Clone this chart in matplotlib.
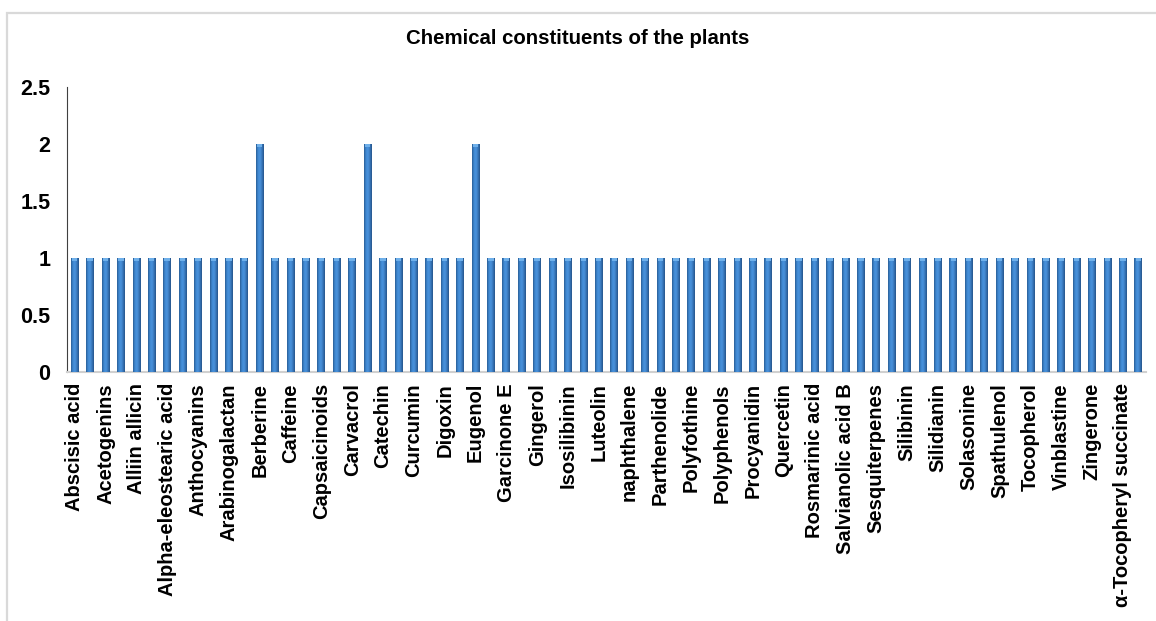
import numpy as np
import matplotlib.pyplot as plt
from matplotlib import rcParams
from matplotlib.colors import LinearSegmentedColormap
from matplotlib.patches import Rectangle

rcParams.update({'font.family': ['Liberation Sans', 'DejaVu Sans'], 'font.weight': 'bold'})

# every second compound carries a label on the category axis
labels = ['Abscisic acid', 'Acetogenins', 'Alliin allicin', 'Alpha-eleostearic acid',
          'Anthocyanins', 'Arabinogalactan', 'Berberine', 'Caffeine', 'Capsaicinoids',
          'Carvacrol', 'Catechin', 'Curcumin', 'Digoxin', 'Eugenol', 'Garcinone E',
          'Gingerol', 'Isosilibinin', 'Luteolin', 'naphthalene', 'Parthenolide',
          'Polyfothine', 'Polyphenols', 'Procyanidin', 'Quercetin', 'Rosmarinic acid',
          'Salvianolic acid B', 'Sesquiterpenes', 'Silibinin', 'Silidianin', 'Solasonine',
          'Spathulenol', 'Tocopherol', 'Vinblastine', 'Zingerone',
          '\u03b1-Tocopheryl succinate']

# counts per compound (70 bars)
counts = [1] * 70
counts[12] = 2
counts[19] = 2
counts[26] = 2

title = 'Chemical constituents of the plants'

fig = plt.figure(figsize=(11.56, 6.21), dpi=100)
# light grey chart frame
fig.add_artist(Rectangle((7 / 1156, -0.1), 1.2, 1 - 13 / 621 + 0.1, transform=fig.transFigure,
                         fill=False, edgecolor='#D9D9D9', linewidth=1.6))
ax = fig.add_axes([67 / 1156, 1 - 372 / 621, (1146 - 67) / 1156, (372 - 87) / 621])

ind = np.arange(len(counts))
width = 0.5
bars = ax.bar(ind, counts, width, color='#3A7DC4', edgecolor='none', zorder=2)

# bevel-like shading across each bar
cmap = LinearSegmentedColormap.from_list('bevel', ['#2A5D95', '#3F88D2', '#4A93DC', '#3877BB', '#26548A'])
grad = np.linspace(0, 1, 64).reshape(1, -1)
for b in bars:
    x0, w, h = b.get_x(), b.get_width(), b.get_height()
    im = ax.imshow(grad, cmap=cmap, aspect='auto', extent=(x0, x0 + w, 0, h), zorder=3)
    im.set_clip_path(b)
    ax.add_patch(Rectangle((x0 + w * 0.15, h - 0.025), w * 0.7, 0.025, color='#6FB0EA', zorder=4, lw=0))

ax.set_xlim(-0.5, len(counts) - 0.5)
ax.set_ylim(0, 2.5)
ax.set_yticks([0, 0.5, 1, 1.5, 2, 2.5])
ax.set_yticklabels(['0', '0.5', '1', '1.5', '2', '2.5'], fontsize=15.5, fontweight='bold')
ax.set_xticks(ind[::2])
ax.set_xticklabels(labels, rotation=90, fontsize=14.5, fontweight='bold')
ax.tick_params(axis='both', length=0)
ax.tick_params(axis='y', pad=12)
ax.tick_params(axis='x', pad=8)

for s in ['top', 'right']:
    ax.spines[s].set_visible(False)
ax.spines['left'].set_color('#404040')
ax.spines['left'].set_linewidth(0.8)
ax.spines['bottom'].set_color('#D0D0D0')
ax.spines['bottom'].set_linewidth(1.5)

fig.text(0.5, 1 - 38 / 621, title, ha='center', va='center', fontsize=14.7, fontweight='bold')

fig.savefig('out.png', dpi=100)
